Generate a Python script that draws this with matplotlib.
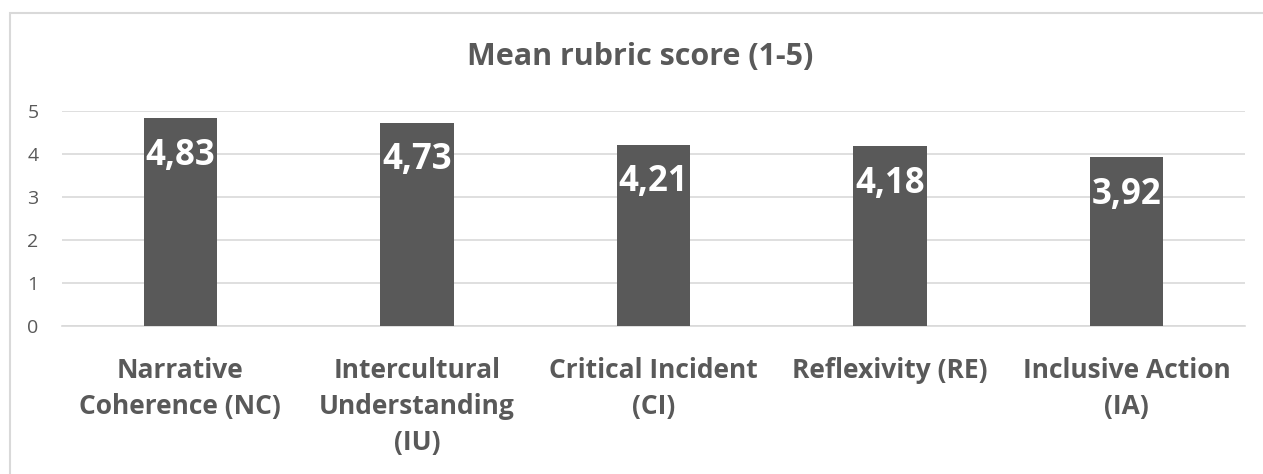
import matplotlib
matplotlib.use("Agg")
from matplotlib import pyplot as plt
from matplotlib.patches import Rectangle

categories = ["Narrative\nCoherence (NC)", "Intercultural\nUnderstanding\n(IU)",
              "Critical Incident\n(CI)", "Reflexivity (RE)", "Inclusive Action\n(IA)"]
scores = [4.83, 4.73, 4.21, 4.18, 3.92]
labels = ["4,83", "4,73", "4,21", "4,18", "3,92"]
yticks = [0, 1, 2, 3, 4, 5]

grey = "#595959"
plt.rcParams["font.family"] = ["Open Sans", "DejaVu Sans"]

fig = plt.figure(figsize=(12.63, 4.74), dpi=100)
fig.patches.append(Rectangle((10 / 1263, -0.1), 1.2, 1 - 13 / 474 + 0.1,
                             transform=fig.transFigure, fill=False,
                             edgecolor="#d9d9d9", linewidth=1.5))

ax = fig.add_axes([62 / 1263, 1 - 326 / 474, (1245 - 62) / 1263, (326 - 111) / 474])
x = range(len(scores))
ax.bar(x, scores, width=0.31, color=grey, zorder=3)
for xi, v, lab in zip(x, scores, labels):
    ax.annotate(lab, (xi, v), xytext=(0, -14), textcoords="offset points",
                ha="center", va="top", color="white", fontsize=25,
                fontweight="bold", zorder=4)

ax.set_xlim(-0.5, len(scores) - 0.5)
ax.set_ylim(0, 5)
ax.set_yticks(yticks)
ax.yaxis.grid(True, color="#d9d9d9", linewidth=1.2, zorder=0)
for s in ["top", "right", "left"]:
    ax.spines[s].set_visible(False)
ax.spines["bottom"].set_color("#d9d9d9")
ax.spines["bottom"].set_linewidth(1.2)
ax.tick_params(axis="y", length=0, pad=17, labelsize=14, labelcolor=grey)
ax.tick_params(axis="x", length=0, pad=22, labelsize=19, labelcolor=grey)
ax.set_xticks(list(x))
ax.set_xticklabels(categories, fontweight="bold", linespacing=1.45)

fig.text(640 / 1263, 1 - 57 / 474, "Mean rubric score (1-5)", ha="center", va="center",
         fontsize=22, fontweight="bold", color=grey)

fig.savefig("out.png", dpi=100)
